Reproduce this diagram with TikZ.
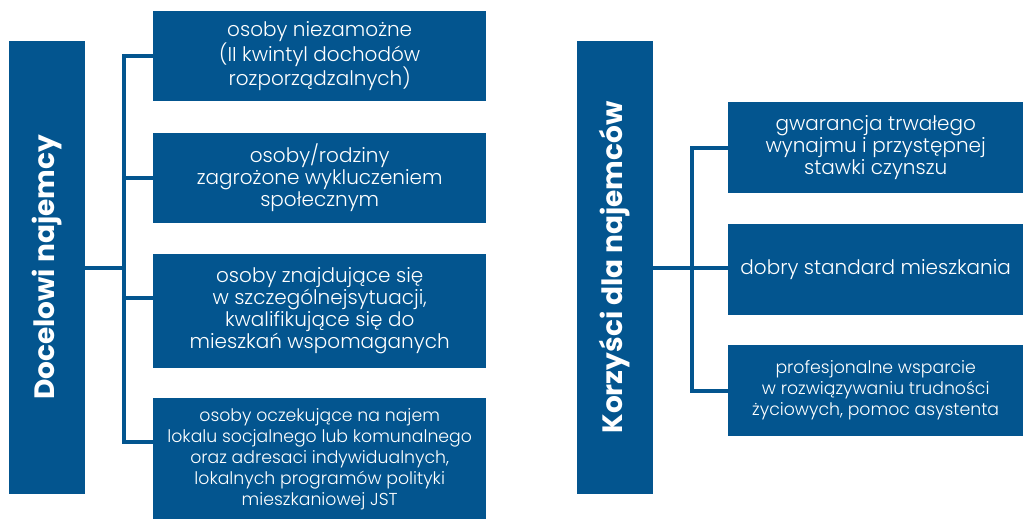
\documentclass[tikz,border=0pt]{standalone}
\usepackage{fontspec}
\setmainfont{Poppins}
\newfontfamily\thinfont{Poppins Light}
\usetikzlibrary{positioning}
\definecolor{HousingBlue}{HTML}{03558F}

\begin{document}
\begin{tikzpicture}[
    x=1pt, y=-1pt,
    node distance=30pt,
    every node/.style={align=center, text=white},
    group/.style={fill=HousingBlue, inner sep=0pt, minimum width=453pt, minimum height=76pt, rotate=90, font=\fontsize{28}{32}\selectfont\bfseries},
    leftbox/.style={fill=HousingBlue, inner sep=0pt, minimum width=333pt, minimum height=90pt, font=\thinfont\fontsize{20}{22}\selectfont},
    rightbox/.style={fill=HousingBlue, inner sep=0pt, minimum width=295pt, minimum height=91pt, font=\thinfont\fontsize{20}{22}\selectfont},
    small/.style={font=\thinfont\fontsize{17.3}{21}\selectfont},
    link/.style={draw=HousingBlue, line width=4pt}
  ]
  \useasboundingbox (0,0) rectangle (1023,519);
  % Docelowi najemcy
  \node[group] (target) at (47,267.5) {Docelowi najemcy};
  \node[leftbox, anchor=north west] (low) at (153,11) {osoby niezamożne\\(II kwintyl dochodów\\rozporządzalnych)};
  \node[leftbox, below=31pt of low] (excl) {osoby/rodziny\\zagrożone wykluczeniem\\społecznym};
  \node[leftbox, below=31pt of excl, minimum height=114pt] (assist) {osoby znajdujące się\\w szczególnejsytuacji,\\kwalifikujące się do\\mieszkań wspomaganych};
  \node[leftbox, below=30pt of assist, minimum height=122pt, small] (waiting) {osoby oczekujące na najem\\lokalu socjalnego lub komunalnego\\oraz adresaci indywidualnych,\\lokalnych programów polityki\\mieszkaniowej JST};
  \coordinate (spineL) at (124,0);
  \draw[link] (target.south) -- (target.south -| spineL);
  \draw[link] (low.west) -- (low.west -| spineL) -- ([yshift=17pt]waiting.west -| spineL) -- ([yshift=17pt]waiting.west);
  \draw[link] (excl.west) -- (excl.west -| spineL);
  \draw[link] ([yshift=13pt]assist.west) -- ([yshift=13pt]assist.west -| spineL);
  % Korzysci dla najemcow
  \node[group] (benefit) at (615,267.5) {Korzyści dla najemców};
  \node[rightbox, anchor=north west] (rent) at (728,102) {gwarancja trwałego\\wynajmu i przystępnej\\stawki czynszu};
  \node[rightbox, below=of rent] (standard) {dobry standard mieszkania};
  \node[rightbox, below=of standard, small] (support) {profesjonalne wsparcie\\w rozwiązywaniu trudności\\życiowych, pomoc asystenta};
  \coordinate (spineR) at (692,0);
  \draw[link] (benefit.south) -- (benefit.south -| standard.west);
  \draw[link] (rent.west) -- (rent.west -| spineR) -- (support.west -| spineR) -- (support.west);
\end{tikzpicture}
\end{document}
